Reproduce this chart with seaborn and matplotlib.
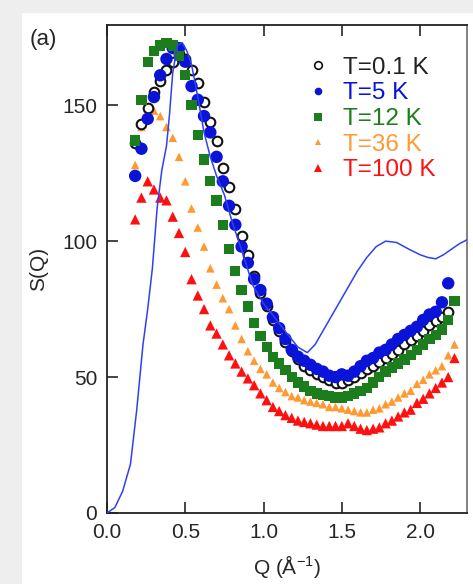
import numpy as np
import pandas as pd
import matplotlib
matplotlib.use("Agg")
import matplotlib.pyplot as plt
from matplotlib.lines import Line2D
from matplotlib.patches import Rectangle
import seaborn as sns

# ---------------- data ----------------
Q = [0.18, 0.22, 0.26, 0.30, 0.34, 0.38, 0.42, 0.46, 0.50, 0.54, 0.58, 0.62, 0.66,
     0.70, 0.74, 0.78, 0.82, 0.86, 0.90, 0.94, 0.98, 1.02, 1.06, 1.10, 1.14, 1.18,
     1.22, 1.26, 1.30, 1.34, 1.38, 1.42, 1.46, 1.50, 1.54, 1.58, 1.62, 1.66, 1.70,
     1.74, 1.78, 1.82, 1.86, 1.90, 1.94, 1.98, 2.02, 2.06, 2.10, 2.14, 2.18, 2.22]

S_01K = [136, 143, 149, 155, 159, 163, 166, 169, 167, 163, 158, 151, 144,
         137, 127, 120, 112, 102, 95, 87, 81, 76, 71, 67, 63, 59.5,
         56.5, 54, 52.5, 51, 50, 49, 48, 48, 49, 50, 51.5, 53, 54,
         55.5, 57, 58.5, 60, 62, 63.5, 65, 67, 69, 70.5, 72, 74, np.nan]

S_5K = [124, 134, 145, 153, 161, 167, 171, 171, 166, 157, 152, 146, 140,
        131, 122, 113, 106, 98, 92, 86, 82, 77, 72, 68, 64, 60,
        57.5, 56, 54.5, 53, 52, 50.5, 50, 51, 50.5, 52, 54, 56, 57,
        59, 60, 62, 64, 65.5, 67, 68.5, 71, 73, 74, 77.5, 84.5, np.nan]

S_12K = [137, 152, 166, 170, 172, 173, 172, 168, 161, 150, 139, 130, 122,
         115, 106, 97, 89, 82, 76, 70, 65, 61, 57.5, 55, 52.5, 50,
         48, 46.5, 45, 44, 43.5, 43, 42.5, 42.5, 43, 44, 45, 46, 48,
         50, 52, 53.5, 55, 56.5, 58, 60, 62, 64, 65.5, 67.5, 71, 78]

S_36K = [128, 142, 149, 148, 146, 142, 138, 131, 122, 112, 105, 98, 90,
         84, 79, 75, 69, 64, 59.5, 56, 53, 51, 48, 46, 44.5, 43,
         42.5, 41.5, 41, 40.5, 40, 39, 39, 38.5, 38, 37.5, 37, 37, 38,
         38.5, 40, 41, 42.5, 44, 45, 47.5, 49, 51, 52.5, 54, 58, 62]

S_100K = [108, 116, 122, 119, 116, 115, 109, 103, 96, 86, 80, 75, 69,
          66, 62, 58, 55, 52, 49.5, 47, 44, 41.5, 39, 37.5, 36, 35,
          34, 33.5, 33, 32.5, 32, 32, 32, 32, 33, 32, 31, 30.5, 31,
          31.5, 33, 34, 35.5, 37, 38, 40.5, 42, 44, 46, 48, 50, 57]

Q_line = [0.0, 0.05, 0.10, 0.15, 0.19, 0.21, 0.23, 0.26, 0.29, 0.32, 0.35, 0.38,
          0.40, 0.42, 0.45, 0.48, 0.51, 0.54, 0.58, 0.62, 0.66, 0.70, 0.75, 0.80,
          0.87, 0.93, 1.00, 1.07, 1.15, 1.22, 1.28, 1.33, 1.38, 1.45, 1.53, 1.60,
          1.66, 1.72, 1.78, 1.85, 1.93, 2.00, 2.05, 2.10, 2.15, 2.20, 2.25, 2.30]
S_line = [0, 2, 8, 18, 38, 50, 62, 75, 90, 112, 126, 135,
          147, 162, 172, 173, 170, 165, 153, 140, 131, 124, 117, 107,
          95, 84, 77, 72, 66, 61, 59, 62, 67, 74, 82, 89,
          94, 98, 100, 99.5, 97, 95, 94, 93.5, 95, 97, 99, 100.5]

labels = ["T=0.1 K", "T=5 K", "T=12 K", "T=36 K", "T=100 K"]
xticks = [0.0, 0.5, 1.0, 1.5, 2.0]
yticks = [0, 50, 100, 150]

# ---------------- style ----------------
sns.set_style("ticks")
plt.rcParams["font.family"] = ["Liberation Sans", "DejaVu Sans"]
plt.rcParams["mathtext.fontset"] = "custom"
plt.rcParams["mathtext.rm"] = "Liberation Sans"
plt.rcParams["mathtext.it"] = "Liberation Sans"

TXT = "#262626"
fig = plt.figure(figsize=(4.73, 5.84), dpi=100, facecolor="#eeeeee")
fig.patches.append(Rectangle((22 / 473, 0), 1, 1 - 13 / 584, transform=fig.transFigure,
                             facecolor="white", edgecolor="none", zorder=-5))
ax = fig.add_axes([107 / 473, 71 / 584, 360 / 473, 488 / 584])
ax.set_zorder(3)
ax.set_facecolor("white")

styles = {
    "T=100 K": dict(marker="^", color="#ff1010", s=55, ec="none", z=3),
    "T=36 K": dict(marker="^", color="#ff9a33", s=38, ec="none", z=3),
    "T=0.1 K": dict(marker="o", color="white", s=48, ec="#111111", z=4),
    "T=5 K": dict(marker="o", color="#0a14d8", s=80, ec="none", z=5),
    "T=12 K": dict(marker="s", color="#1b7d1b", s=55, ec="none", z=6),
}
series = {"T=0.1 K": S_01K, "T=5 K": S_5K, "T=12 K": S_12K,
          "T=36 K": S_36K, "T=100 K": S_100K}

sns.lineplot(x=Q_line, y=S_line, ax=ax, color="#2f40f2", lw=1.1, zorder=7,
             sort=False, estimator=None)

for lab in ["T=100 K", "T=36 K", "T=0.1 K", "T=5 K", "T=12 K"]:
    st = styles[lab]
    df = pd.DataFrame({"Q": Q, "S": series[lab]}).dropna()
    sns.scatterplot(data=df, x="Q", y="S", ax=ax, marker=st["marker"],
                    color=st["color"], s=st["s"], edgecolor=st["ec"],
                    linewidth=1.5 if lab == "T=0.1 K" else 0, zorder=st["z"],
                    legend=False)

ax.set_xlim(0, 2.3)
ax.set_ylim(0, 179.5)
ax.set_xticks(xticks)
ax.set_xticklabels([f"{v:.1f}" for v in xticks])
ax.set_yticks(yticks)
ax.tick_params(direction="in", length=8, width=1.2, labelsize=15, colors=TXT,
               pad=7, top=True, right=False)
for sp in ax.spines.values():
    sp.set_linewidth(1.3)
    sp.set_color("#222222")
ax.spines["right"].set_color("#777777")
ax.set_xlabel("Q (Å$^{-1}$)", fontsize=15, color=TXT, labelpad=8)
ax.set_ylabel("S(Q)", fontsize=15, color=TXT, labelpad=10)

# legend
handles = []
for lab in labels:
    st = styles[lab]
    handles.append(Line2D([], [], ls="none", marker=st["marker"],
                          markerfacecolor=st["color"],
                          markeredgecolor="#111111" if lab == "T=0.1 K" else st["color"],
                          markeredgewidth=1.2 if lab == "T=0.1 K" else 0,
                          markersize=5.5 if lab != "T=36 K" else 4.5))
leg = ax.legend(handles, labels, loc="upper left", bbox_to_anchor=(0.567, 0.935),
                frameon=False, fontsize=17.5, handlelength=0.6, handletextpad=0.7,
                labelspacing=0.15, borderaxespad=0.0, borderpad=0.0)
for t, lab in zip(leg.get_texts(), labels):
    c = styles[lab]["color"] if lab != "T=0.1 K" else "#222222"
    t.set_color(c)

fig.text(30 / 473, 1 - 40 / 584, "(a)", fontsize=16, color=TXT, va="center", ha="left")

fig.savefig("out.png", dpi=100, facecolor=fig.get_facecolor())
